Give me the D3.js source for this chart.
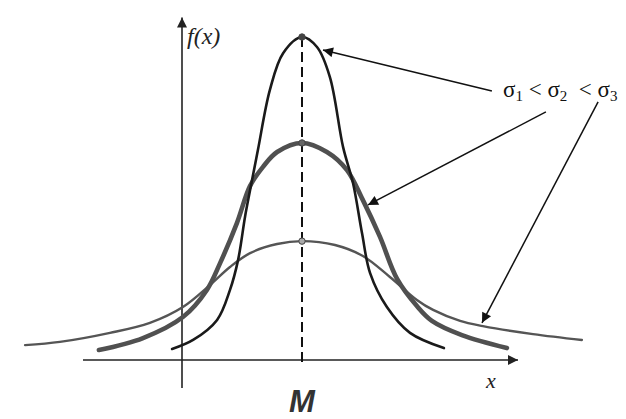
<!DOCTYPE html>
<html><head><meta charset="utf-8">
<script src="https://cdn.jsdelivr.net/npm/d3@7"></script>
<style>body{margin:0;background:#fff}svg{display:block}</style>
</head><body>
<script>
// Curves: [x, f(x)] with mean M at x = 0
const sigma1 = [[-4.33,0.34],[-3.63,0.62],[-2.83,1.24],[-2.40,2.17],[-2.13,3.10],[-1.90,4.43],[-1.73,5.26],[-1.47,6.50],[-1.07,8.36],[-0.63,9.50],[0,10.0],[0.50,9.69],[0.93,8.76],[1.37,6.59],[1.70,5.48],[2.00,3.93],[2.27,2.69],[2.83,1.64],[3.60,0.84],[4.73,0.37]];
const sigma2 = [[-6.77,0.31],[-5.30,0.68],[-3.97,1.33],[-3.17,2.17],[-2.73,3.00],[-2.17,4.24],[-1.73,5.39],[-1.30,5.98],[-0.83,6.44],[0,6.72],[0.83,6.44],[1.50,5.88],[2.03,4.95],[2.60,3.81],[3.17,2.51],[3.83,1.67],[4.33,1.21],[5.33,0.77],[6.83,0.37]];
const sigma3 = [[-9.23,0.46],[-8.07,0.56],[-6.40,0.84],[-5.07,1.15],[-3.97,1.64],[-3.07,2.32],[-2.40,2.88],[-1.73,3.31],[-0.83,3.59],[0,3.68],[1.10,3.56],[2.03,3.22],[2.93,2.57],[3.83,1.86],[4.37,1.55],[5.27,1.21],[6.03,1.05],[7.70,0.80],[9.33,0.62]];
const peaks = [10.0, 6.72, 3.68];
const xAxisExtent = [-7.3, 7.2];
const yAxisExtent = [-0.87, 10.6];
const yAxisAt = -4.0;
const meanX = 0;
const arrows = [[[6.33,8.33],[0.70,9.60]],[[8.13,7.68],[2.20,4.80]],[[9.87,7.99],[6.00,1.15]]];
const labelAt = [6.70, 8.14];

const W = 626, H = 419;
const x = d3.scaleLinear().domain([-10, 10]).range([2, 602]);
const y = d3.scaleLinear().domain([0, 10]).range([360, 37]);

const svg = d3.select("body").append("svg").attr("width", W).attr("height", H);
const defs = svg.append("defs");
defs.append("marker").attr("id","ah").attr("viewBox","0 0 10 10").attr("refX",10).attr("refY",5)
  .attr("markerWidth",14).attr("markerHeight",10).attr("markerUnits","userSpaceOnUse").attr("orient","auto")
  .append("path").attr("d","M0,0L10,5L0,10z").attr("fill","#111");
defs.append("marker").attr("id","ax").attr("viewBox","0 0 10 10").attr("refX",10).attr("refY",5)
  .attr("markerWidth",17).attr("markerHeight",10).attr("markerUnits","userSpaceOnUse").attr("orient","auto")
  .append("path").attr("d","M0,0L10,5L0,10z").attr("fill","#222");

const serif = "'Liberation Serif', 'Times New Roman', 'DejaVu Serif', serif";

// axes
svg.append("line").attr("x1", x(xAxisExtent[0])).attr("x2", x(xAxisExtent[1]))
  .attr("y1", y(0)).attr("y2", y(0)).attr("stroke","#222").attr("stroke-width",1.6).attr("marker-end","url(#ax)");
svg.append("line").attr("x1", x(yAxisAt)).attr("x2", x(yAxisAt))
  .attr("y1", y(yAxisExtent[0])).attr("y2", y(yAxisExtent[1])).attr("stroke","#222").attr("stroke-width",1.6).attr("marker-end","url(#ax)");

// dashed mean line
svg.append("line").attr("x1", x(meanX)).attr("x2", x(meanX)).attr("y1", y(peaks[0])).attr("y2", y(-0.12))
  .attr("stroke","#111").attr("stroke-width",2).attr("stroke-dasharray","10,5");

const line = d3.line().x(d => x(d[0])).y(d => y(d[1])).curve(d3.curveCatmullRom.alpha(0.5));
const styles = [
  {data: sigma3, color:"#555", w:2.4},
  {data: sigma2, color:"#505050", w:4.6},
  {data: sigma1, color:"#1a1a1a", w:2.6}
];
styles.forEach(s => svg.append("path").attr("d", line(s.data)).attr("fill","none")
  .attr("stroke", s.color).attr("stroke-width", s.w).attr("stroke-linecap","round"));

// peak dots
const dotFill = ["#444","#666","#aaa"];
peaks.forEach((p,i) => svg.append("circle").attr("cx", x(meanX)).attr("cy", y(p)).attr("r", 3.2)
  .attr("fill", dotFill[i]).attr("stroke","#444").attr("stroke-width",1));

// annotation arrows
arrows.forEach(a => svg.append("line").attr("x1", x(a[0][0])).attr("y1", y(a[0][1]))
  .attr("x2", x(a[1][0])).attr("y2", y(a[1][1])).attr("stroke","#111").attr("stroke-width",1.5).attr("marker-end","url(#ah)"));

// labels
const lab = svg.append("text").attr("x", x(labelAt[0])).attr("y", y(labelAt[1]))
  .attr("font-family", serif).attr("font-size",23).attr("fill","#111").attr("xml:space","preserve")
  .style("white-space","pre");
lab.append("tspan").text("σ");
lab.append("tspan").attr("font-size",15).attr("dy",4).text("1");
lab.append("tspan").attr("dy",-4).text(" < σ");
lab.append("tspan").attr("font-size",15).attr("dy",4).text("2");
lab.append("tspan").attr("dy",-4).text("  < σ");
lab.append("tspan").attr("font-size",15).attr("dy",4).text("3");

svg.append("text").attr("x", x(yAxisAt) + 5).attr("y", 44).text("f(x)")
  .attr("font-family", serif).attr("font-style","italic").attr("font-size",24).attr("fill","#222");
svg.append("text").attr("x", 486).attr("y", 388).text("x")
  .attr("font-family", serif).attr("font-style","italic").attr("font-size",22).attr("fill","#222");
svg.append("text").attr("x", x(meanX)).attr("y", 412).attr("text-anchor","middle").text("M")
  .attr("font-family","'Liberation Sans', sans-serif").attr("font-style","italic").attr("font-weight","bold")
  .attr("font-size",31).attr("fill","#333");
</script>
</body></html>
